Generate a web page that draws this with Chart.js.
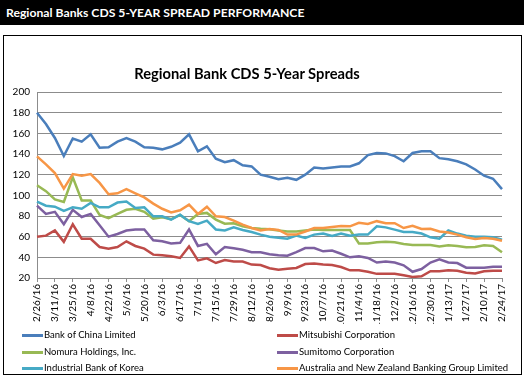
<!DOCTYPE html>
<html>
<head>
<meta charset="utf-8">
<script src="https://cdn.jsdelivr.net/npm/chart.js@4.4.0/dist/chart.umd.min.js"></script>
<style>
  html, body { margin: 0; padding: 0; background: #fff; }
  body { width: 524px; height: 376px; position: relative; overflow: hidden; font-family: Lato, "Open Sans", sans-serif; }
  #header { position: absolute; left: 0; top: 0; width: 524px; height: 25px; background: #000; color: #fff;
            font-weight: bold; font-size: 12.2px; line-height: 25px; padding-left: 6px; box-sizing: border-box; }
  #box { position: absolute; left: 3px; top: 35px; width: 519px; height: 340px; border: 1px solid #000; box-sizing: border-box; }
  #chart { position: absolute; left: 0; top: 0; }
  #title { position: absolute; left: 0; top: 28px; width: 486px; text-align: center; font-weight: bold; font-size: 14.7px; color: #000; }
  #legend { position: absolute; left: 0; top: 0; }
  .item { position: absolute; font-size: 9.5px; color: #000; white-space: nowrap; line-height: 14px; }
  .item span.swatch { display: inline-block; width: 21px; height: 2.5px; vertical-align: middle; margin-right: 1px; }
</style>
</head>
<body>
<div id="header">Regional Banks CDS 5-YEAR SPREAD PERFORMANCE</div>
<div id="box">
  <canvas id="chart" width="517" height="338"></canvas>
  <div id="title">Regional Bank CDS 5-Year Spreads</div>
  <div id="legend"></div>
</div>
<script>
// weekly dates
const weeks = ['2/26/16','3/4/16','3/11/16','3/18/16','3/25/16','4/1/16','4/8/16','4/15/16','4/22/16','4/29/16',
  '5/6/16','5/13/16','5/20/16','5/27/16','6/3/16','6/10/16','6/17/16','6/24/16','7/1/16','7/8/16',
  '7/15/16','7/22/16','7/29/16','8/5/16','8/12/16','8/19/16','8/26/16','9/2/16','9/9/16','9/16/16',
  '9/23/16','9/30/16','10/7/16','10/14/16','10/21/16','10/28/16','11/4/16','11/11/16','11/18/16','11/25/16',
  '12/2/16','12/9/16','12/16/16','12/23/16','12/30/16','1/6/17','1/13/17','1/20/17','1/27/17','2/3/17',
  '2/10/17','2/17/17','2/24/17'];

const bankOfChina = [180,169,155.5,138,155,152,159,146,146.5,152,155.5,152,146.5,146,144.5,147,151,159,142.6,147.4,
  135.5,132,134,129,128,120,118,115.5,117,115,120,127,126,127,128,128,131,139,141,140.6,
  138,133,141,142.6,142.6,136,135,133,130,125,119,116,106];
const mitsubishi = [60,61,66,55,72,58,58,50,48.4,50,55.5,51,48.4,42.6,42,41,39.4,50.6,37,39,
  34.5,37.4,36,36,33,32.6,29.5,28,29,29.7,33.5,34,33,32.6,30.6,27.4,27.4,26,24,24,
  24,22.6,21,21.6,26.5,26.5,27.4,27,25,24.4,26.5,27,27];
const nomura = [109.7,104,96,93.5,117.4,95,95,81,78,82,86,87,84,77.5,78.7,77,81,75,82,83,
  76.5,72.6,73,70,68.4,67.7,67.2,66,65,65,66,67,66.5,66.5,66.5,66.5,53.5,53.5,54.5,55,
  54.5,53,52,52,52,50.6,51.6,51,49.7,50,51.6,51,45];
const sumitomo = [90,82,84,72,86,79,82,71,60,62.6,66,67,67,56.5,55.5,53.5,54,67,51,53,
  43,50,48.7,47.4,45,45,43,42,41.6,45,49,49,45.8,46.5,43.5,40,41,39.4,35,36,
  35,32.3,26,28.7,35,38,35,34.5,30,30,30,31,31];
const industrialBank = [94,90,89,85,88.4,87,92.6,88.4,88.4,93,94,87.7,88.4,79.7,79.7,76.5,81.3,75,72.3,75.5,
  67,66,69,66.5,64.5,62,60,59,58,61,58.7,62,63,60.6,63,61,62,62,70,69,
  66.8,64.5,64.5,63,59.4,58,66,63,61,60,60,59.4,57];
const anz = [137.7,130,121.6,106.5,120.6,119,120.6,112,101,102,106,102,98,92,87,83.5,85.5,91,82,89,
  79.7,79,75.5,71.6,68.4,66,67.4,66.5,62,62,65,68.4,68.4,69.4,70.3,70,73.5,72.3,75,73,
  73,68.4,70.6,67.4,67.7,65,64,62,59.4,57.7,58.7,58,56];

const seriesNames = ['Bank of China Limited','Mitsubishi Corporation','Nomura Holdings, Inc.',
  'Sumitomo Corporation','Industrial Bank of Korea','Australia and New Zealand Banking Group Limited'];
const seriesValues = [bankOfChina, mitsubishi, nomura, sumitomo, industrialBank, anz];
const seriesColors = ['#4A7EBB','#BE4B48','#98B954','#7D60A0','#46AAC5','#F79646'];
const yTicks = [20,40,60,80,100,120,140,160,180,200];

const datasets = seriesNames.map((name, i) => ({
  label: name,
  data: seriesValues[i],
  borderColor: seriesColors[i],
  backgroundColor: seriesColors[i],
  borderWidth: 2.5,
  pointRadius: 0,
  tension: 0,
  order: seriesNames.length - i
}));

new Chart(document.getElementById('chart'), {
  type: 'line',
  data: { labels: weeks, datasets: datasets },
  options: {
    responsive: false,
    animation: false,
    layout: { padding: { left: 0, right: 19, top: 56, bottom: 50 } },
    plugins: { legend: { display: false }, tooltip: { enabled: false }, title: { display: false } },
    scales: {
      x: {
        offset: false,
        afterFit: s => { s.height = 46; },
        grid: { drawOnChartArea: false, drawTicks: true, tickLength: 4,
                tickColor: c => (c.index % 2 === 0 ? '#8c8c8c' : 'rgba(0,0,0,0)') },
        border: { color: '#8c8c8c' },
        ticks: {
          autoSkip: false, minRotation: 90, maxRotation: 90, padding: 2,
          color: '#000', font: { family: 'Lato', size: 10 },
          callback: function(v, i) { return i % 2 === 0 ? this.getLabelForValue(v) : ''; }
        }
      },
      y: {
        min: 20, max: 200,
        afterFit: s => { s.width = 33; },
        afterBuildTicks: s => { s.ticks = yTicks.map(v => ({ value: v })); },
        grid: { color: '#8c8c8c', drawTicks: false },
        border: { color: '#8c8c8c' },
        ticks: { padding: 7, color: '#000', font: { family: 'Lato', size: 10 } }
      }
    }
  }
});

// legend in two columns, three rows
const legend = document.getElementById('legend');
const cols = [18, 273];
const rows = [299, 316, 332];
seriesNames.forEach((name, i) => {
  const d = document.createElement('div');
  d.className = 'item';
  d.style.left = cols[i % 2] + 'px';
  d.style.top = (rows[Math.floor(i / 2)] - 7) + 'px';
  d.innerHTML = '<span class="swatch" style="background:' + seriesColors[i] + '"></span>' + name;
  legend.appendChild(d);
});
</script>
</body>
</html>
